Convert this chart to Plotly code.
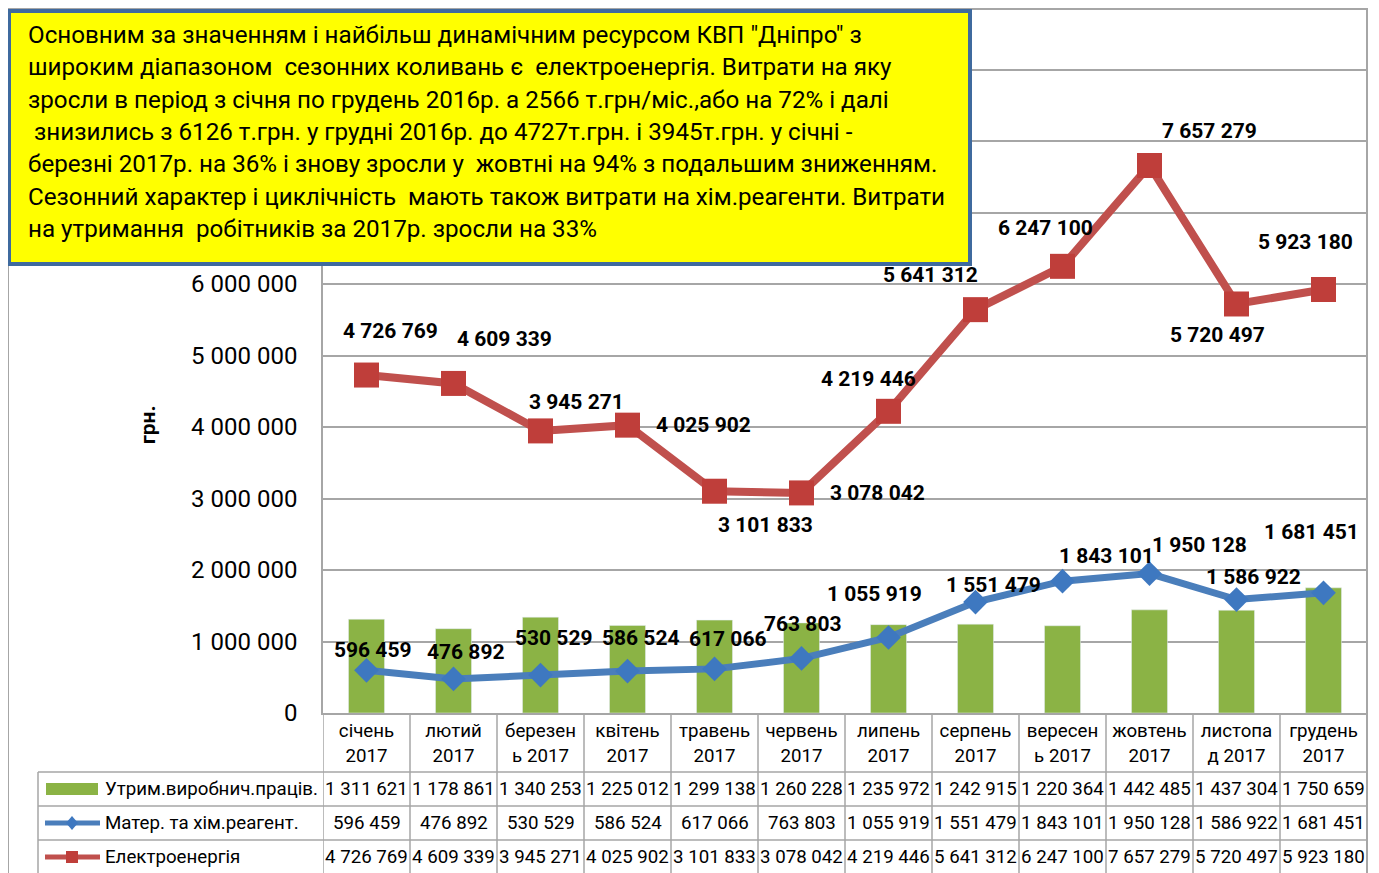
import plotly.graph_objects as go

# ---------------- data ----------------
months = ["січень 2017", "лютий 2017", "березень 2017", "квітень 2017", "травень 2017",
          "червень 2017", "липень 2017", "серпень 2017", "вересень 2017", "жовтень 2017",
          "листопад 2017", "грудень 2017"]
month_ticks = ["січень<br>2017", "лютий<br>2017", "березен<br>ь 2017", "квітень<br>2017",
               "травень<br>2017", "червень<br>2017", "липень<br>2017", "серпень<br>2017",
               "вересен<br>ь 2017", "жовтень<br>2017", "листопа<br>д 2017", "грудень<br>2017"]
staff = [1311621, 1178861, 1340253, 1225012, 1299138, 1260228, 1235972, 1242915,
         1220364, 1442485, 1437304, 1750659]
materials = [596459, 476892, 530529, 586524, 617066, 763803, 1055919, 1551479,
             1843101, 1950128, 1586922, 1681451]
power = [4726769, 4609339, 3945271, 4025902, 3101833, 3078042, 4219446, 5641312,
         6247100, 7657279, 5720497, 5923180]
series_names = ["Утрим.виробнич.праців.", "Матер. та хім.реагент.", "Електроенергія"]
y_tickvals = [0, 1000000, 2000000, 3000000, 4000000, 5000000, 6000000, 7000000, 8000000, 9000000]
y_labelled_max = 6000000   # higher tick labels are hidden behind the note box
y_title = "грн."
note_lines = [
    "Основним за значенням і найбільш динамічним ресурсом КВП \"Дніпро\" з",
    "широким діапазоном  сезонних коливань є  електроенергія. Витрати на яку",
    "зросли в період з січня по грудень 2016р. а 2566 т.грн/міс.,або на 72% і далі",
    " знизились з 6126 т.грн. у грудні 2016р. до 4727т.грн. і 3945т.грн. у січні -",
    "березні 2017р. на 36% і знову зросли у  жовтні на 94% з подальшим зниженням.",
    "Сезонний характер і циклічність  мають також витрати на хім.реагенти. Витрати",
    "на утримання  робітників за 2017р. зросли на 33%",
]

# ---------------- style ----------------
OFF = 8                      # page body margin of the html page
W, H = 1379 - OFF, 873 - OFF
# plot area in screenshot pixels
SL, SR, ST, SB = 323, 1367, 8, 713
PL, PR, PT, PB = SL - OFF, SR - OFF, ST - OFF, SB - OFF
FONT = "Roboto"
GREEN = "#8BB345"
BLUE = "#4A7EBB"
BLUE_M = "#3E78C0"
RED = "#C0504D"
RED_M = "#BF3E3A"
GRID = "#A6A6A6"
power_shift = [(24, -44), (51, -44), (36, -29), (76, 0), (51, 34), (76, 0), (-20, -32),
               (-45, -35), (-17, -38), (60, -35), (-19, 31), (-18, -47)]
mat_shift = [(6, -20), (12, -27), (13, -37), (13, -33), (13, -30), (1, -34), (-14, -44),
             (18, -17), (44, -25), (50, -29), (17, -23), (-12, -61)]


def px(x):
    """screenshot pixel x -> paper x"""
    return (x - SL) / (SR - SL)


def py(y):
    """screenshot pixel y -> paper y"""
    return (SB - y) / (SB - ST)


def fmt(v):
    return f"{v:,}".replace(",", " ")


fig = go.Figure()
fig.add_trace(go.Bar(x=months, y=staff, name=series_names[0], marker=dict(color=GREEN)))
fig.add_trace(go.Scatter(x=months, y=materials, name=series_names[1], mode="lines+markers",
                         line=dict(color=BLUE, width=7),
                         marker=dict(symbol="diamond", size=19, color=BLUE_M)))
fig.add_trace(go.Scatter(x=months, y=power, name=series_names[2], mode="lines+markers",
                         line=dict(color=RED, width=8),
                         marker=dict(symbol="square", size=25, color=RED_M)))

ann = []
# data labels
for m, v, (dx, dy) in zip(months, power, power_shift):
    ann.append(dict(x=m, y=v, xref="x", yref="y", text=fmt(v), showarrow=False,
                    xshift=dx, yshift=-dy, font=dict(family=FONT, size=21, color="black", weight="bold")))
for m, v, (dx, dy) in zip(months, materials, mat_shift):
    ann.append(dict(x=m, y=v, xref="x", yref="y", text=fmt(v), showarrow=False,
                    xshift=dx, yshift=-dy, font=dict(family=FONT, size=21, color="black", weight="bold")))

# data table values
row_y = [789, 823, 857]
for vals, ry in zip([staff, materials, power], row_y):
    for m, v in zip(months, vals):
        ann.append(dict(x=m, y=py(ry), xref="x", yref="paper", text=fmt(v), showarrow=False,
                        yanchor="middle", font=dict(family=FONT, size=18.7, color="black")))
for name, ry in zip(series_names, row_y):
    ann.append(dict(x=px(103), y=py(ry), xref="paper", yref="paper", text=name, showarrow=False,
                    xanchor="left", yanchor="middle", font=dict(family=FONT, size=18.7, color="black")))

# y title
ann.append(dict(x=px(148), y=py(425), xref="paper", yref="paper", text=y_title, showarrow=False,
                xanchor="center", yanchor="middle", textangle=-90,
                font=dict(family=FONT, size=21, color="black", weight="bold")))

# note box text
for i, line in enumerate(note_lines):
    ann.append(dict(x=px(26), y=py(35 + 32.3 * i), xref="paper", yref="paper",
                    text=line.replace("  ", "&nbsp; "), showarrow=False,
                    xanchor="left", yanchor="middle",
                    font=dict(family=FONT, size=24.2, color="black")))

shapes = []
# table horizontal lines
for ry in [772, 806, 840]:
    shapes.append(dict(type="line", xref="paper", yref="paper", x0=px(38), x1=1, y0=py(ry), y1=py(ry),
                       line=dict(color=GRID, width=1.5)))
shapes.append(dict(type="line", xref="paper", yref="paper", x0=px(38), x1=px(38), y0=py(772), y1=py(890),
                   line=dict(color=GRID, width=1.5)))
# table vertical lines at category boundaries
for i in range(len(months) + 1):
    shapes.append(dict(type="line", xref="x", yref="paper", x0=i - 0.5, x1=i - 0.5, y0=0, y1=py(890),
                       line=dict(color=GRID, width=1.5)))
# legend keys
shapes.append(dict(type="rect", xref="paper", yref="paper", x0=px(46), x1=px(98), y0=py(795), y1=py(783),
                   fillcolor=GREEN, line=dict(width=0)))
shapes.append(dict(type="line", xref="paper", yref="paper", x0=px(45), x1=px(100), y0=py(823), y1=py(823),
                   line=dict(color=BLUE, width=5)))
shapes.append(dict(type="path", xref="paper", yref="paper",
                   path=f"M {px(72)},{py(816)} L {px(78)},{py(823)} L {px(72)},{py(830)} L {px(66)},{py(823)} Z",
                   fillcolor=BLUE_M, line=dict(width=0)))
shapes.append(dict(type="line", xref="paper", yref="paper", x0=px(45), x1=px(100), y0=py(857), y1=py(857),
                   line=dict(color=RED, width=5)))
shapes.append(dict(type="rect", xref="paper", yref="paper", x0=px(66), x1=px(78), y0=py(863), y1=py(851),
                   fillcolor=RED_M, line=dict(width=0)))
# chart border
shapes.append(dict(type="line", xref="paper", yref="paper", x0=px(8), x1=px(8), y0=py(8), y1=py(890),
                   line=dict(color=GRID, width=2)))
shapes.append(dict(type="line", xref="paper", yref="paper", x0=px(8), x1=1, y0=py(9), y1=py(9),
                   line=dict(color=GRID, width=2)))
shapes.append(dict(type="line", xref="paper", yref="paper", x0=1, x1=1, y0=py(8), y1=py(890),
                   line=dict(color=GRID, width=2)))
# note box
shapes.append(dict(type="rect", xref="paper", yref="paper", x0=px(9), x1=px(970), y0=py(264), y1=py(11),
                   fillcolor="#FFFF00", line=dict(color="#3F6A9E", width=4), layer="above"))

fig.update_layout(
    width=W, height=H,
    margin=dict(l=PL, r=W - PR, t=PT, b=H - PB, autoexpand=False),
    paper_bgcolor="white", plot_bgcolor="white",
    showlegend=False, bargap=0.586,
    font=dict(family=FONT, color="black"),
    annotations=ann, shapes=shapes,
)
fig.update_xaxes(range=[-0.5, len(months) - 0.5], tickvals=months, ticktext=month_ticks,
                 tickfont=dict(family=FONT, size=18.7, color="black"),
                 showline=True, linecolor=GRID, linewidth=1.5, showgrid=False, ticks="",
                 automargin=False)
fig.update_yaxes(range=[0, (SB - ST) / 71.5 * 1e6], tickvals=y_tickvals,
                 ticktext=[fmt(v) if v <= y_labelled_max else "" for v in y_tickvals],
                 tickfont=dict(family=FONT, size=24, color="black"), ticklabelstandoff=19,
                 showgrid=True, gridcolor=GRID, gridwidth=1.5, showline=True, linecolor=GRID,
                 linewidth=1.5, zeroline=False, ticks="", automargin=False)

fig.write_html("out.html")
